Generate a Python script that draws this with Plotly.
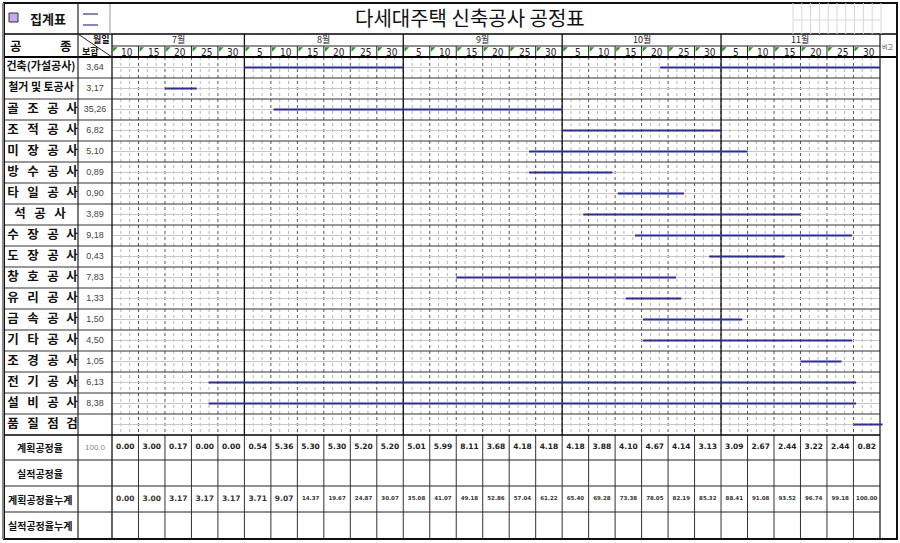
import plotly.graph_objects as go

W, H = 900, 543

TITLE = "다세대주택 신축공사 공정표"
TASKS = ["건축(가설공사)", "철거 및 토공사", "골조공사", "조적공사", "미장공사", "방수공사",
         "타일공사", "석공사", "수장공사", "도장공사", "창호공사", "유리공사", "금속공사",
         "기타공사", "조경공사", "전기공사", "설비공사", "품질점검"]
WEIGHTS = [3.64, 3.17, 35.26, 6.82, 5.10, 0.89, 0.90, 3.89, 9.18, 0.43, 7.83,
           1.33, 1.50, 4.50, 1.05, 6.13, 8.38, None]

MONTHS = ["7월", "8월", "9월", "10월", "11월"]
MONTH_COLS = [5, 6, 6, 6, 6]          # 5-day columns per month
DAY_LABELS = [10, 15, 20, 25, 30,
              5, 10, 15, 20, 25, 30,
              5, 10, 15, 20, 25, 30,
              5, 10, 15, 20, 25, 30,
              5, 10, 15, 20, 25, 30]

# bars: task row, start / end in 5-day column units (0 = 7월 6일)
BAR_ROW = [0, 0, 1, 2, 3, 4, 5, 6, 7, 8, 9, 10, 11, 12, 13, 14, 15, 16, 17]
BAR_START = [5.0, 20.7, 2.0, 6.1, 17.0, 15.75, 15.75, 19.1, 17.8, 19.75, 22.55,
             13.0, 19.4, 20.05, 20.05, 26.0, 3.65, 3.65, 28.0]
BAR_END = [11.0, 29.0, 3.2, 17.0, 23.0, 24.0, 18.9, 21.6, 26.0, 27.95, 25.4,
           21.3, 21.5, 23.8, 27.95, 27.55, 28.1, 28.1, 29.1]

PLAN_RATE = [0.00, 3.00, 0.17, 0.00, 0.00, 0.54, 5.36, 5.30, 5.30, 5.20, 5.20,
             5.01, 5.99, 8.11, 3.68, 4.18, 4.18, 4.18, 3.88, 4.10, 4.67, 4.14,
             3.13, 3.09, 2.67, 2.44, 3.22, 2.44, 0.82]
PLAN_CUM = [0.00, 3.00, 3.17, 3.17, 3.17, 3.71, 9.07, 14.37, 19.67, 24.87, 30.07,
            35.08, 41.07, 49.18, 52.86, 57.04, 61.22, 65.40, 69.28, 73.38, 78.05,
            82.19, 85.32, 88.41, 91.08, 93.52, 96.74, 99.18, 100.00]
BOTTOM_LABELS = ["계획공정율", "실적공정율", "계획공정율누계", "실적공정율누계"]

NCOL = sum(MONTH_COLS)
NROW = len(TASKS)

# page layout (pixels) -> axis units
X0, BW = 112, 26.48      # left edge of the gantt area, width of a 5-day column
Y0, RH = 57, 21.0        # top of first task row, row height


def bx(px):
    return (px - X0) / BW


def ry(py):
    return (py - Y0) / RH


KR = "Noto Sans CJK KR"
BAR_COLOR = "#2a2aa6"
shapes = []


def line(x0, y0, x1, y1, color="#000", width=1, dash="solid"):
    shapes.append(dict(type="line", xref="x", yref="y", x0=x0, y0=y0, x1=x1, y1=y1,
                       line=dict(color=color, width=width, dash=dash), layer="below"))


def pline(px0, py0, px1, py1, **kw):
    line(bx(px0), ry(py0), bx(px1), ry(py1), **kw)


GANTT_BOTTOM = Y0 + NROW * RH
TABLE_ROWS = [GANTT_BOTTOM, 460, 486, 512, 539]

# gantt grid
for c in range(NCOL):
    for k in (1, 2):
        line(c + k / 3, 0, c + k / 3, NROW, color="#b5b5b5", width=1, dash="dot")
    if c > 0:
        line(c, 0, c, NROW, color="#555", width=1, dash="dot")
for r in range(NROW):
    line(0, r + 0.5, NCOL, r + 0.5, color="#c8c8c8", width=1)
    if r > 0:
        pline(4, Y0 + r * RH, 880, Y0 + r * RH, color="#333", width=1)

# month boundaries
m = 0
for n in MONTH_COLS[:-1]:
    m += n
    line(m, ry(34), m, NROW, color="#111", width=1.3)

# header day-row separators and bottom table columns
for c in range(1, NCOL):
    line(c, ry(46), c, ry(57), color="#222", width=1)
    line(c, ry(TABLE_ROWS[0]), c, ry(TABLE_ROWS[-1]), color="#333", width=1)
for y in TABLE_ROWS[1:-1]:
    pline(4, y, 880, y, color="#222", width=1)
pline(4, TABLE_ROWS[0], 880, TABLE_ROWS[0], color="#000", width=1.5)

# frame
pline(4, 34, 897, 34, color="#000", width=1.5)
pline(4, 57, 897, 57, color="#000", width=2)
pline(112, 46, 880, 46, color="#222", width=1)
pline(78, 3, 78, 539, color="#222", width=1.2)
pline(110, 3, 110, 34, color="#999", width=1)
pline(112, 34, 112, 539, color="#111", width=1.3)
pline(880, 34, 880, 539, color="#111", width=1.2)
pline(78, 34, 112, 57, color="#222", width=1)
shapes.append(dict(type="rect", xref="x", yref="y", x0=bx(4), x1=bx(897), y0=ry(3), y1=ry(539),
                   line=dict(color="#111", width=2), layer="below"))
pline(3, 3, 3, 539, color="#888", width=2)
# faint sheet gridlines in the title corner
for i in range(11):
    pline(793 + i * 8.8, 3, 793 + i * 8.8, 34, color="#d8d8d8", width=1)
pline(793, 20, 880, 20, color="#d8d8d8", width=1)
# legend marks + purple box
pline(83, 14, 98, 14, color="#5a5ac8", width=1.5)
pline(83, 25, 98, 25, color="#5a5ac8", width=1.5)
shapes.append(dict(type="rect", xref="x", yref="y", x0=bx(9), x1=bx(18), y0=ry(13), y1=ry(22),
                   fillcolor="#c9a6ee", line=dict(color="#333", width=1)))

fig = go.Figure()

# bars
bx_list, by_list = [], []
for r, s, e in zip(BAR_ROW, BAR_START, BAR_END):
    bx_list += [s, e, None]
    by_list += [r + 0.5, r + 0.5, None]
fig.add_trace(go.Scatter(x=bx_list, y=by_list, mode="lines",
                         line=dict(color=BAR_COLOR, width=2), hoverinfo="skip"))

# task names (spread across the cell like the sheet)
nx, ny, nt, ns = [], [], [], []
for r, name in enumerate(TASKS):
    if len(name) == 4:
        pos = [13, 33, 53, 72]
    elif len(name) == 3:
        pos = [20, 40, 60]
    else:
        pos = None
    if pos:
        for ch, p in zip(name, pos):
            nx.append(bx(p)); ny.append(r + 0.5); nt.append(f"<b>{ch}</b>"); ns.append(12.5)
    else:
        nx.append(bx(41)); ny.append(r + 0.5); nt.append(f"<b>{name}</b>"); ns.append(11)
fig.add_trace(go.Scatter(x=nx, y=ny, mode="text", text=nt,
                         textfont=dict(family=KR, size=ns, color="#111"), hoverinfo="skip"))

# weights
wy = [r + 0.5 for r, w in enumerate(WEIGHTS) if w is not None]
wt = [f"{w:.2f}".replace(".", ",") for w in WEIGHTS if w is not None]
fig.add_trace(go.Scatter(x=[bx(95)] * len(wt), y=wy, mode="text", text=wt,
                         textfont=dict(family="Liberation Sans", size=9, color="#444"),
                         hoverinfo="skip"))

# bottom table values
cols = [c + 0.5 for c in range(NCOL)]
fig.add_trace(go.Scatter(x=cols, y=[ry(447)] * NCOL, mode="text",
                         text=[f"{v:.2f}" for v in PLAN_RATE],
                         textfont=dict(family="DejaVu Sans", size=7.5, color="#222", weight="bold"),
                         hoverinfo="skip"))
fig.add_trace(go.Scatter(x=cols, y=[ry(499)] * NCOL, mode="text",
                         text=[f"{v:.2f}" for v in PLAN_CUM],
                         textfont=dict(family="DejaVu Sans", color="#333", weight="bold",
                                       size=[7.5 if v < 10 else 5.5 for v in PLAN_CUM]),
                         hoverinfo="skip"))

ann = []


def text(px, py, s, size, color="#111", family=KR, **kw):
    ann.append(dict(x=bx(px), y=ry(py), xref="x", yref="y", text=s, showarrow=False,
                    font=dict(family=family, size=size, color=color), **kw))


text(470, 17, TITLE, 20, color="#111")
text(48, 18, "<b>집계표</b>", 13)
text(16, 45, "<b>공</b>", 12.5)
text(66, 45, "<b>종</b>", 12.5)
text(101, 39, "<b>월일</b>", 9)
text(90, 51, "<b>보합</b>", 9)
text(888, 46, "비고", 6, color="#444")
text(95, 447, "100.0", 8, color="#888", family="Liberation Sans")
for lab, yy in zip(BOTTOM_LABELS, [447, 473, 499, 525]):
    text(40, yy, f"<b>{lab}</b>", 10)

c0 = 0
for mname, n in zip(MONTHS, MONTH_COLS):
    ann.append(dict(x=c0 + n / 2, y=ry(39.5), xref="x", yref="y", text=mname, showarrow=False,
                    font=dict(family=KR, size=9, color="#222")))
    c0 += n
for c, d in enumerate(DAY_LABELS):
    ann.append(dict(x=c + 0.58, y=ry(52), xref="x", yref="y", text=str(d), showarrow=False,
                    font=dict(family="Liberation Sans Narrow, DejaVu Sans Condensed, Arial",
                              size=10, color="#222")))

# green flags on day cells
fig.add_trace(go.Scatter(x=[c + 0.1 for c in range(NCOL)], y=[ry(48.8)] * NCOL, mode="markers",
                         marker=dict(symbol="triangle-nw", size=5, color="#1f9a1f"),
                         hoverinfo="skip"))

fig.update_layout(
    width=W, height=H,
    margin=dict(l=0, r=0, t=0, b=0),
    paper_bgcolor="white", plot_bgcolor="white",
    showlegend=False,
    shapes=shapes, annotations=ann,
    xaxis=dict(range=[bx(0), bx(W)], visible=False, fixedrange=True),
    yaxis=dict(range=[ry(H), ry(0)], visible=False, fixedrange=True),
)

# the sheet fills the window edge to edge, so drop the page's default body margin
fig.write_html("out.html", config={"displayModeBar": False},
               post_script="document.body.style.margin='0';")
